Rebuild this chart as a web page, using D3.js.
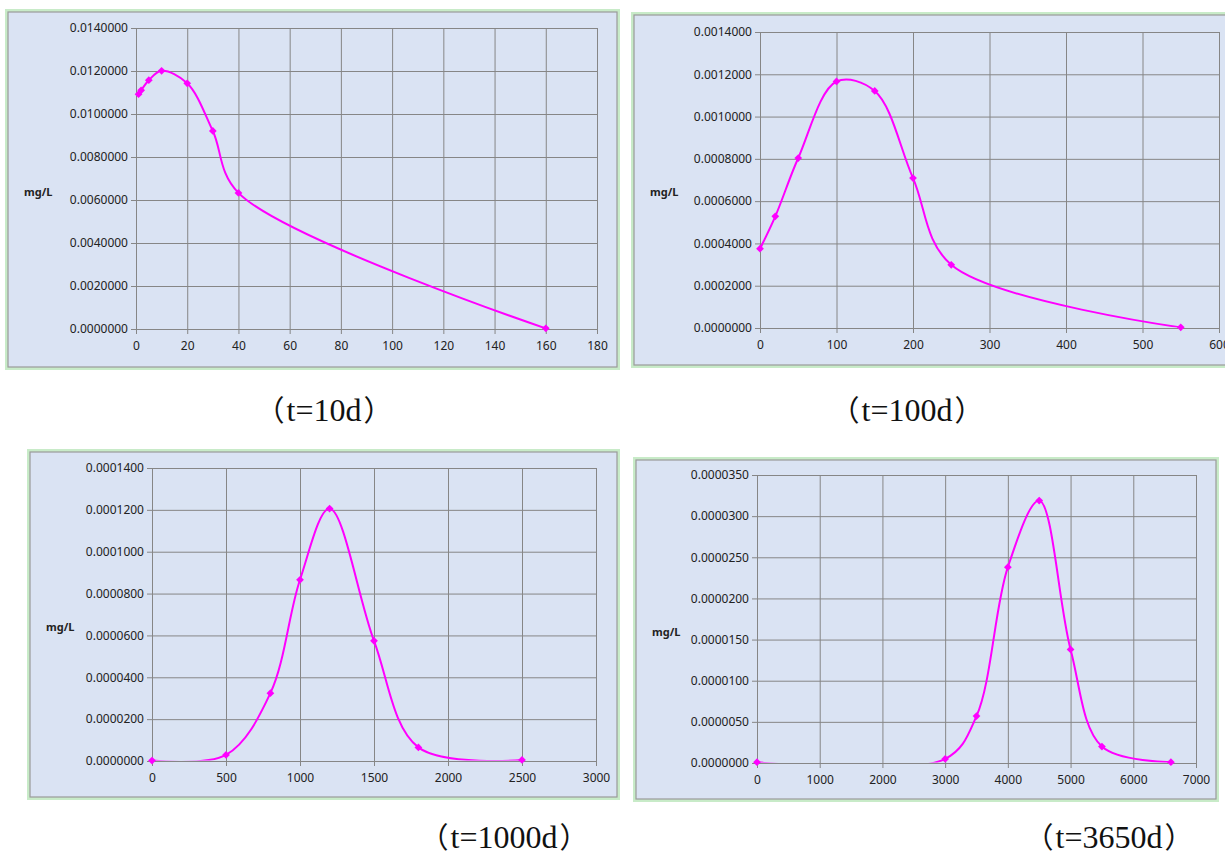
<!DOCTYPE html>
<html>
<head>
<meta charset="utf-8">
<script src="https://cdn.jsdelivr.net/npm/d3@7"></script>
<style>
  body { margin: 0; background: #fff; }
  .tick text { font-family: "Noto Sans", sans-serif; font-size: 12px; fill: #222; }
  .caption { font-family: "Liberation Serif", serif; font-size: 32px; fill: #111; }
  .caption .paren { font-family: "Noto Sans CJK SC", sans-serif; font-size: 29px; }
  .unit { font-family: "Noto Sans", sans-serif; font-size: 11px; font-weight: bold; fill: #222; }
</style>
</head>
<body>
<div id="chart"></div>
<script>
// DATA
var days = ["t=10d", "t=100d", "t=1000d", "t=3650d"];

var dist10 = [1, 2, 5, 10, 20, 30, 40, 160];
var conc10 = [0.01092, 0.01110, 0.01157, 0.01201, 0.01143, 0.00921, 0.00633, 0.00003];

var dist100 = [0, 20, 50, 100, 150, 200, 250, 550];
var conc100 = [0.000375, 0.000528, 0.000804, 0.001166, 0.001121, 0.000709, 0.000299, 0.000003];

var dist1000 = [0, 500, 800, 1000, 1200, 1500, 1800, 2500];
var conc1000 = [0.0000002, 0.0000029, 0.0000324, 0.0000866, 0.0001206, 0.0000574, 0.0000065, 0.0000005];

var dist3650 = [0, 3000, 3500, 4000, 4500, 5000, 5500, 6600];
var conc3650 = [0.0000001, 0.0000005, 0.0000057, 0.0000238, 0.0000319, 0.0000138, 0.0000020, 0.0000001];

var xTicks10 = [0, 20, 40, 60, 80, 100, 120, 140, 160, 180];
var yTicks10 = [0, 0.002, 0.004, 0.006, 0.008, 0.010, 0.012, 0.014];
var xTicks100 = [0, 100, 200, 300, 400, 500, 600];
var yTicks100 = [0, 0.0002, 0.0004, 0.0006, 0.0008, 0.0010, 0.0012, 0.0014];
var xTicks1000 = [0, 500, 1000, 1500, 2000, 2500, 3000];
var yTicks1000 = [0, 0.00002, 0.00004, 0.00006, 0.00008, 0.00010, 0.00012, 0.00014];
var xTicks3650 = [0, 1000, 2000, 3000, 4000, 5000, 6000, 7000];
var yTicks3650 = [0, 0.000005, 0.00001, 0.000015, 0.00002, 0.000025, 0.00003, 0.000035];

var unit = "mg/L";

// LAYOUT

var W = 1225, H = 854;
var panels = [
  {xs: dist10, ys: conc10, xt: xTicks10, yt: yTicks10, frame: [8, 12, 617, 367], plot: [136, 28, 597, 329], cap: [324, 421]},
  {xs: dist100, ys: conc100, xt: xTicks100, yt: yTicks100, frame: [634, 15, 1232, 365], plot: [760, 32, 1219, 328], cap: [907, 421]},
  {xs: dist1000, ys: conc1000, xt: xTicks1000, yt: yTicks1000, frame: [30, 452, 617, 797], plot: [152, 468, 596, 761], cap: [504, 848]},
  {xs: dist3650, ys: conc3650, xt: xTicks3650, yt: yTicks3650, frame: [636, 460, 1216, 799], plot: [757, 475, 1196, 763], cap: [1109, 848]}
];

var svg = d3.select("#chart").append("svg")
    .attr("width", W)
    .attr("height", H);

svg.append("rect").attr("width", W).attr("height", H).attr("fill", "#fff");

var fmt = d3.format(".7f");

panels.forEach(function(p, k) {
  var f = p.frame, pl = p.plot;

  // frame: light green outer band, gray inner border
  svg.append("rect")
    .attr("x", f[0] - 1.5).attr("y", f[1] - 1.5)
    .attr("width", f[2] - f[0] + 3).attr("height", f[3] - f[1] + 3)
    .attr("fill", "none").attr("stroke", "#c8ebc8").attr("stroke-width", 3);
  svg.append("rect")
    .attr("x", f[0]).attr("y", f[1])
    .attr("width", f[2] - f[0]).attr("height", f[3] - f[1])
    .attr("fill", "#dae3f3").attr("stroke", "#9a9a9a").attr("stroke-width", 1.2);

  var w = pl[2] - pl[0], h = pl[3] - pl[1];
  var x = d3.scaleLinear().domain([0, d3.max(p.xt)]).range([0, w]);
  var y = d3.scaleLinear().domain([0, d3.max(p.yt)]).range([h, 0]);

  var g = svg.append("g").attr("transform", "translate(" + pl[0] + "," + pl[1] + ")");

  // y axis + horizontal grid
  var ya = g.append("g").call(d3.axisLeft(y).tickValues(p.yt).tickFormat(fmt).tickSize(0).tickPadding(8));
  ya.select(".domain").remove();
  ya.selectAll(".tick line").attr("x1", -5).attr("x2", w).attr("stroke", "#868686");

  // x axis + vertical grid
  var xa = g.append("g").attr("transform", "translate(0," + h + ")")
    .call(d3.axisBottom(x).tickValues(p.xt).tickFormat(d3.format("d")).tickSize(0).tickPadding(12));
  xa.select(".domain").remove();
  xa.selectAll(".tick line").attr("y1", 5).attr("y2", -h).attr("stroke", "#868686");

  // unit label
  svg.append("text").attr("class", "unit")
    .attr("x", f[0] + 16).attr("y", (f[1] + f[3]) / 2 + 6)
    .text(unit);

  // curve, clipped to the plot area
  var clipId = "clip" + k;
  svg.append("clipPath").attr("id", clipId)
    .append("rect").attr("x", -2).attr("y", -2).attr("width", w + 4).attr("height", h + 1.5);

  var pts = p.xs.map(function(d, i) { return [d, p.ys[i]]; });
  var line = d3.line()
    .x(function(d) { return x(d[0]); })
    .y(function(d) { return y(d[1]); })
    .curve(d3.curveCatmullRom.alpha(0.5));

  g.append("path")
    .attr("clip-path", "url(#" + clipId + ")")
    .attr("d", line(pts))
    .attr("fill", "none")
    .attr("stroke", "#ff00ff")
    .attr("stroke-width", 2);

  g.selectAll("path.mark")
    .data(pts)
    .enter().append("path")
    .attr("class", "mark")
    .attr("d", d3.symbol().type(d3.symbolSquare).size(30))
    .attr("transform", function(d) { return "translate(" + x(d[0]) + "," + y(d[1]) + ") rotate(45)"; })
    .attr("fill", "#ff00ff");

  // caption with full-width brackets
  var cap = svg.append("text").attr("class", "caption")
    .attr("x", p.cap[0]).attr("y", p.cap[1])
    .attr("text-anchor", "middle");
  cap.append("tspan").attr("class", "paren").text("（");
  cap.append("tspan").attr("dx", 2).text(days[k]);
  cap.append("tspan").attr("class", "paren").attr("dx", 2).text("）");
});
</script>
</body>
</html>
